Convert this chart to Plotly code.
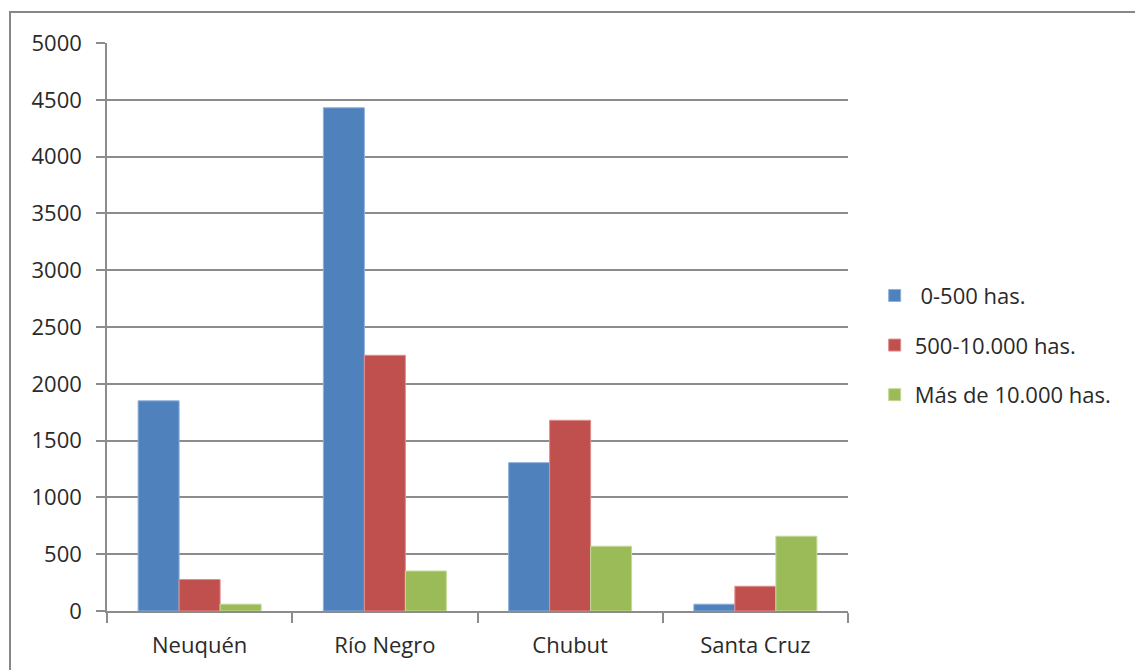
import plotly.graph_objects as go

categories = ["Neuquén", "Río Negro", "Chubut", "Santa Cruz"]
series_names = [" 0-500 has.", "500-10.000 has.", "Más de 10.000 has."]
s_0_500 = [1850, 4430, 1306, 60]
s_500_10000 = [277, 2251, 1679, 218]
s_mas_10000 = [60, 352, 570, 658]
y_ticks = [0, 500, 1000, 1500, 2000, 2500, 3000, 3500, 4000, 4500, 5000]

colors = ["#4F81BD", "#C0504D", "#9BBB59"]
edge = ["#8EB1DC", "#E08E8C", "#C3DA98"]

W, H = 1135, 670
L, R, T, B = 107, 848, 43, 611
pw, ph = R - L, B - T

fig = go.Figure()
for i, (name, vals) in enumerate(zip(series_names, [s_0_500, s_500_10000, s_mas_10000])):
    fig.add_trace(go.Bar(
        x=categories, y=vals, name=name, legendgroup=f"g{i}",
        marker=dict(color=colors[i], line=dict(color=edge[i], width=1)),
    ))

axis_col = "#8C8C8C"
font = dict(family="Open Sans, Liberation Sans, sans-serif", size=22, color="#2a2a2a")

fig.update_layout(
    width=W, height=H,
    margin=dict(l=L, r=W - R, t=T, b=H - B),
    paper_bgcolor="white", plot_bgcolor="white",
    barmode="group", bargap=0.336, bargroupgap=0,
    font=font,
    showlegend=True,
    legend=dict(x=1.036, y=0.468, xanchor="left", yanchor="middle",
                font=font, tracegroupgap=18, itemwidth=30,
                bgcolor="rgba(0,0,0,0)"),
    xaxis=dict(showgrid=False, showline=True, linecolor=axis_col, linewidth=1.5,
               ticks="outside", tickson="boundaries", ticklen=10, tickcolor=axis_col,
               tickwidth=1.5, ticklabelstandoff=14, tickfont=font, fixedrange=True),
    yaxis=dict(range=[0, 5000], tickvals=y_ticks, ticktext=[str(v) for v in y_ticks],
               showgrid=True, gridcolor=axis_col, gridwidth=1.5,
               showline=True, linecolor=axis_col, linewidth=1.5,
               ticks="outside", ticklen=9, tickcolor=axis_col, tickwidth=1.5,
               ticklabelstandoff=10, tickfont=font, zeroline=False, fixedrange=True),
)

# outer chart border (top and left visible, rest runs off the page)
def px_to_paper_x(px):
    return (px - L) / pw

def py_to_paper_y(py):
    return (B - py) / ph

fig.add_shape(type="rect", xref="paper", yref="paper",
              x0=px_to_paper_x(10), x1=px_to_paper_x(W + 20),
              y0=py_to_paper_y(H + 20), y1=py_to_paper_y(12),
              line=dict(color="#878787", width=2), fillcolor="rgba(0,0,0,0)", layer="below")

fig.write_html("out.html")
